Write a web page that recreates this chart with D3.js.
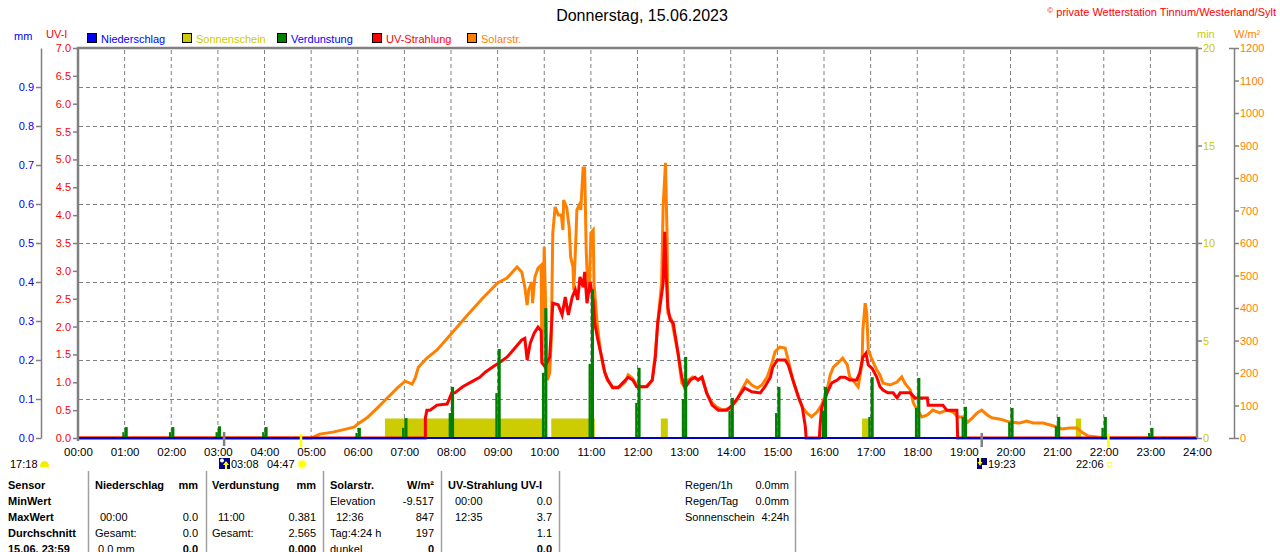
<!DOCTYPE html>
<html>
<head>
<meta charset="utf-8">
<script src="https://cdn.jsdelivr.net/npm/d3@7"></script>
<style>
body { margin: 0; background: #fff; }
svg { display: block; font-family: "Liberation Sans", Arial, sans-serif; }
</style>
</head>
<body>
<script>

// ---- data ----
var hourLabels = ["00:00","01:00","02:00","03:00","04:00","05:00","06:00","07:00","08:00","09:00","10:00","11:00","12:00",
                  "13:00","14:00","15:00","16:00","17:00","18:00","19:00","20:00","21:00","22:00","23:00","24:00"];
var uvTicks = [0,0.5,1,1.5,2,2.5,3,3.5,4,4.5,5,5.5,6,6.5,7];
var mmTicks = [0,0.1,0.2,0.3,0.4,0.5,0.6,0.7,0.8,0.9];
var mmGrid = [0.1,0.2,0.3,0.4,0.5,0.6,0.7,0.8,0.9];
var minTicks = [0,5,10,15,20];
var wTicks = [0,100,200,300,400,500,600,700,800,900,1000,1100,1200];

// Solarstrahlung W/m2
var solarReadings = [
  ["00:00",0],["05:00",0],["05:11",12],["05:28",18],["05:46",28],["05:56",34],["06:00",43],["06:12",62],["06:25",92],["06:38",123],
  ["06:51",154],["07:01",175],["07:10",166],["07:14",185],["07:18",218],["07:29",246],["07:42",271],["07:59",317],["08:21",378],["08:41",431],
  ["09:00",477],["09:12",492],["09:25",526],["09:31",511],["09:35",465],["09:38",409],["09:40",455],["09:44",480],["09:45",415],["09:48",495],
  ["09:52",523],["09:56",532],["09:57",231],["10:00",588],["10:04",178],["10:07",200],["10:09",300],["10:11",631],["10:14",711],["10:18",686],
  ["10:22",686],["10:24",640],["10:25",732],["10:29",708],["10:32",649],["10:34",557],["10:37",526],["10:38",455],["10:41",631],["10:42",702],
  ["10:45",717],["10:47",702],["10:50",831],["10:52",831],["10:54",578],["10:55",517],["10:58",455],["11:00",631],["11:03",640],["11:04",477],
  ["11:08",354],["11:12",271],["11:16",218],["11:21",178],["11:28",157],["11:37",157],["11:44",172],["11:48",194],["11:53",185],["11:59",163],
  ["12:06",157],["12:12",160],["12:19",178],["12:23",262],["12:26",354],["12:31",477],["12:33",711],["12:36",847],["12:38",631],["12:39",385],
  ["12:44",363],["12:48",311],["12:52",262],["12:57",169],["13:01",157],["13:05",178],["13:11",188],["13:18",180],["13:23",188],["13:29",138],
  ["13:36",108],["13:42",95],["13:50",86],["13:59",92],["14:08",117],["14:14",148],["14:21",178],["14:27",163],["14:34",154],["14:40",163],
  ["14:47",188],["14:53",231],["14:57",265],["15:03",280],["15:10",277],["15:14",240],["15:20",178],["15:27",126],["15:32",95],["15:38",77],
  ["15:44",65],["15:51",80],["15:57",102],["16:04",148],["16:08",194],["16:12",218],["16:18",231],["16:24",246],["16:30",225],["16:33",188],
  ["16:37",178],["16:44",157],["16:49",231],["16:50",332],["16:53",415],["16:55",385],["16:57",271],["17:02",240],["17:08",209],["17:12",194],
  ["17:16",169],["17:25",163],["17:34",172],["17:40",188],["17:44",169],["17:51",148],["17:55",108],["18:00",86],["18:06",65],["18:13",71],
  ["18:20",86],["18:29",77],["18:38",86],["18:46",80],["18:52",65],["18:59",65],["19:05",49],["19:11",62],["19:17",77],["19:23",86],
  ["19:30",71],["19:36",62],["19:47",58],["19:59",49],["20:12",46],["20:21",52],["20:29",46],["20:42",46],["20:51",40],["21:00",34],
  ["21:06",28],["21:16",31],["21:25",31],["21:32",18],["21:40",6],["21:51",3],["21:58",0],["24:00",0]
];

// UV-Strahlung UV-I
var uvReadings = [
  ["00:00",0],["07:27",0],["07:27",0.36],["07:29",0.50],["07:33",0.50],["07:42",0.59],["07:55",0.61],["08:01",0.81],["08:05",0.81],["08:15",0.92],
  ["08:28",1.02],["08:37",1.09],["08:44",1.18],["08:54",1.28],["09:03",1.36],["09:12",1.45],["09:22",1.61],["09:31",1.76],["09:35",1.79],["09:38",1.40],
  ["09:42",1.70],["09:47",1.88],["09:52",1.99],["09:56",1.92],["09:57",1.35],["10:01",1.28],["10:07",1.45],["10:11",2.42],["10:18",2.39],["10:23",2.21],
  ["10:27",2.53],["10:31",2.21],["10:36",2.53],["10:40",2.66],["10:43",2.48],["10:46",2.89],["10:50",2.71],["10:52",2.98],["10:55",2.42],["10:59",2.80],
  ["11:03",2.48],["11:05",2.06],["11:09",1.76],["11:14",1.45],["11:18",1.17],["11:22",1.04],["11:28",0.90],["11:35",0.90],["11:41",0.99],["11:48",1.09],
  ["11:54",1.04],["11:59",0.92],["12:12",0.92],["12:19",1.04],["12:23",1.45],["12:26",2.06],["12:33",2.78],["12:35",3.70],["12:37",2.89],["12:39",2.35],
  ["12:42",2.12],["12:46",2.06],["12:51",1.63],["12:57",1.09],["13:01",0.90],["13:08",1.04],["13:14",1.09],["13:18",1.04],["13:23",1.09],["13:29",0.81],
  ["13:36",0.59],["13:44",0.50],["13:55",0.50],["14:02",0.59],["14:09",0.72],["14:18",0.90],["14:27",0.83],["14:38",0.81],["14:44",0.92],["14:51",1.09],
  ["14:54",1.27],["15:00",1.40],["15:10",1.40],["15:14",1.31],["15:20",1.04],["15:27",0.74],["15:32",0.56],["15:36",0.20],["15:37",0],["15:54",0],
  ["15:55",0.23],["15:57",0.54],["16:04",0.81],["16:10",0.99],["16:17",1.04],["16:21",1.09],["16:27",1.09],["16:33",1.04],["16:42",1.04],["16:46",1.17],
  ["16:50",1.45],["16:54",1.52],["16:57",1.31],["17:02",1.25],["17:08",1.09],["17:12",0.92],["17:16",0.86],["17:22",0.81],["17:29",0.81],["17:34",0.72],
  ["17:38",0.81],["17:51",0.81],["17:57",0.72],["18:13",0.72],["18:14",0.59],["18:33",0.59],["18:38",0.50],["18:51",0.50],["18:52",0],["24:00",0]
];

// Sonnenschein blocks (min)
var sunStart = ["06:35","10:09","12:30","16:49","21:24"];
var sunEnd   = ["10:00","11:05","12:39","16:58","21:31"];
var sunMinutes = [1,1,1,1,1];

// Verdunstung mm per hour, plus the short reading next to it
var verdTime = ["01:00","02:00","03:00","04:00","06:00","07:00","08:00","09:00","10:00","11:00","12:00",
                "13:00","14:00","15:00","16:00","17:00","18:00","19:00","20:00","21:00","22:00","23:00"];
var verdValue = [0.028,0.028,0.030,0.028,0.026,0.051,0.131,0.228,0.333,0.381,0.180,
                 0.208,0.103,0.131,0.131,0.156,0.154,0.080,0.077,0.054,0.054,0.026];
var verdPrev  = [0.015,0.015,0.015,0.015,0.013,0.026,0.064,0.115,0.167,0.190,0.090,
                 0.100,0.070,0.064,0.070,0.054,0.077,0.054,0.040,0.030,0.026,0.013];

// Niederschlag mm
var rainReadings = [["00:00",0],["24:00",0]];

// moon / sun times
var moonRise = "03:08", sunRise = "04:47", moonSet = "19:23", sunSet = "22:06";

function toMin(s) { var p = s.split(":"); return +p[0] * 60 + +p[1]; }

var W = 1280, H = 552;
var svg = d3.select("body").append("svg").attr("width", W).attr("height", H);

var x = d3.scaleLinear().domain([0, 1440]).range([78, 1197]);
var yUV = d3.scaleLinear().domain([0, 7]).range([438, 48]);
var yMM = d3.scaleLinear().domain([0, 1]).range([438, 48]);
var yMin = d3.scaleLinear().domain([0, 20]).range([438, 48]);
var yW = d3.scaleLinear().domain([0, 1200]).range([438, 48]);

var gray = "#808080";

// grid
svg.append("g").selectAll("line").data(d3.range(1, 24)).enter().append("line")
    .attr("x1", function(d) { return x(d * 60); }).attr("x2", function(d) { return x(d * 60); })
    .attr("y1", 50).attr("y2", 438)
    .attr("stroke", gray).attr("stroke-dasharray", "4,3");
svg.append("g").selectAll("line").data(mmGrid).enter().append("line")
    .attr("x1", 79).attr("x2", 1196)
    .attr("y1", function(d) { return Math.round(yMM(d)) + 0.5; }).attr("y2", function(d) { return Math.round(yMM(d)) + 0.5; })
    .attr("stroke", gray).attr("stroke-dasharray", "4,3");

// sunshine
svg.append("g").selectAll("rect").data(sunStart).enter().append("rect")
    .attr("x", function(d) { return x(toMin(d)); })
    .attr("width", function(d, i) { return x(toMin(sunEnd[i])) - x(toMin(d)); })
    .attr("y", function(d, i) { return yMin(sunMinutes[i]); })
    .attr("height", function(d, i) { return yMin(0) - yMin(sunMinutes[i]); })
    .attr("fill", "#cccc00");

// solar line
var solarLine = d3.line()
    .x(function(d) { return x(toMin(d[0])); })
    .y(function(d) { return yW(d[1]); });
svg.append("path").datum(solarReadings)
    .attr("d", solarLine).attr("fill", "none")
    .attr("stroke", "#ff8000").attr("stroke-width", 3);

// uv line
var uvLine = d3.line()
    .x(function(d) { return x(toMin(d[0])); })
    .y(function(d) { return yUV(d[1]); });
svg.append("path").datum(uvReadings)
    .attr("d", uvLine).attr("fill", "none")
    .attr("stroke", "#ff0000").attr("stroke-width", 3);

// evaporation bars
var verd = svg.append("g");
verd.selectAll("rect.prev").data(verdTime).enter().append("rect")
    .attr("x", function(d) { return x(toMin(d) - 3); })
    .attr("width", x(3) - x(0))
    .attr("y", function(d, i) { return yMM(verdPrev[i]); })
    .attr("height", function(d, i) { return yMM(0) - yMM(verdPrev[i]); })
    .attr("fill", "#008000");
verd.selectAll("rect.main").data(verdTime).enter().append("rect")
    .attr("x", function(d) { return x(toMin(d)); })
    .attr("width", x(4) - x(0))
    .attr("y", function(d, i) { return yMM(verdValue[i]); })
    .attr("height", function(d, i) { return yMM(0) - yMM(verdValue[i]); })
    .attr("fill", "#008000");

// rain line
var rainLine = d3.line()
    .x(function(d) { return x(toMin(d[0])); })
    .y(function(d) { return yMM(d[1]); });
svg.append("path").datum(rainReadings)
    .attr("d", rainLine).attr("fill", "none")
    .attr("stroke", "#0000c8").attr("stroke-width", 2);

// frame
svg.append("path")
    .attr("d", "M78,441V48H1197V438")
    .attr("fill", "none").attr("stroke", gray).attr("stroke-width", 2.5);

// axes
function styleAxis(g, color) {
  g.attr("font-family", null).attr("font-size", 11);
  g.selectAll("text").attr("fill", color);
  g.selectAll("line").attr("stroke", gray).attr("stroke-width", 1.5);
  g.select(".domain").attr("stroke", gray).attr("stroke-width", 1.5);
}

var uvAxis = svg.append("g").attr("transform", "translate(77,0)")
    .call(d3.axisLeft(yUV).tickValues(uvTicks).tickFormat(d3.format(".1f")).tickSize(4).tickPadding(2));
styleAxis(uvAxis, "#ff0000");
uvAxis.select(".domain").remove();

var mmAxis = svg.append("g").attr("transform", "translate(41,0)")
    .call(d3.axisLeft(yMM).tickValues(mmTicks).tickFormat(d3.format(".1f")).tickSize(5).tickSizeOuter(0).tickPadding(2));
styleAxis(mmAxis, "#0000ff");

var minAxis = svg.append("g").attr("transform", "translate(1197,0)")
    .call(d3.axisRight(yMin).tickValues(minTicks).tickFormat(d3.format("d")).tickSize(5).tickPadding(1));
styleAxis(minAxis, "#cccc00");
minAxis.select(".domain").remove();

var wAxis = svg.append("g").attr("transform", "translate(1234,0)")
    .call(d3.axisRight(yW).tickValues(wTicks).tickFormat(d3.format("d")).tickSize(5).tickSizeOuter(0).tickPadding(1));
styleAxis(wAxis, "#ff8000");
wAxis.selectAll(".tick").filter(function(d) { return d === 0 || d === 1200; })
    .select("line").attr("x1", -5);

var xAxis = svg.append("g").attr("transform", "translate(0,438)")
    .call(d3.axisBottom(x).tickValues(d3.range(0, 1441, 60))
      .tickFormat(function(d, i) { return hourLabels[i]; }).tickSize(0).tickPadding(10));
xAxis.attr("font-family", null).attr("font-size", 11.5);
xAxis.select(".domain").remove();
xAxis.selectAll("text").attr("fill", "#000");

// header texts
svg.append("text").attr("x", 642).attr("y", 21).attr("text-anchor", "middle")
    .attr("font-size", 16).text("Donnerstag, 15.06.2023");
var copy = svg.append("text").attr("x", 1276).attr("y", 16).attr("text-anchor", "end")
    .attr("font-size", 11).attr("fill", "#ff0000");
copy.append("tspan").attr("font-size", 8).attr("dy", -3).text("©");
copy.append("tspan").attr("dy", 3).text(" private Wetterstation Tinnum/Westerland/Sylt");

svg.append("text").attr("x", 14).attr("y", 40).attr("font-size", 11).attr("fill", "#0000ff").text("mm");
svg.append("text").attr("x", 46).attr("y", 38).attr("font-size", 11).attr("fill", "#ff0000").text("UV-I");
svg.append("text").attr("x", 1197).attr("y", 38).attr("font-size", 11).attr("fill", "#cccc00").text("min");
svg.append("text").attr("x", 1234).attr("y", 38).attr("font-size", 11).attr("fill", "#ff8000").text("W/m²");

var legendItems = [
  { x: 87, box: "#0000ff", text: "#0000ff", label: "Niederschlag" },
  { x: 182, box: "#cccc00", text: "#cccc00", label: "Sonnenschein" },
  { x: 277, box: "#008000", text: "#0000ff", label: "Verdunstung" },
  { x: 372, box: "#ff0000", text: "#ff0000", label: "UV-Strahlung" },
  { x: 467, box: "#ff8000", text: "#ff8000", label: "Solarstr." }
];
var lg = svg.append("g").selectAll("g").data(legendItems).enter().append("g");
lg.append("rect").attr("x", function(d) { return d.x + 0.5; }).attr("y", 33.5).attr("width", 9).attr("height", 9)
    .attr("fill", function(d) { return d.box; }).attr("stroke", "#000");
lg.append("text").attr("x", function(d) { return d.x + 14; }).attr("y", 43).attr("font-size", 11)
    .attr("fill", function(d) { return d.text; }).text(function(d) { return d.label; });

// moon and sun markers below the axis
svg.append("line").attr("x1", x(toMin(moonRise))).attr("x2", x(toMin(moonRise))).attr("y1", 432).attr("y2", 446)
    .attr("stroke", gray).attr("stroke-width", 2.5);
svg.append("line").attr("x1", x(toMin(moonSet))).attr("x2", x(toMin(moonSet))).attr("y1", 433).attr("y2", 447)
    .attr("stroke", gray).attr("stroke-width", 2.5);
svg.append("line").attr("x1", x(toMin(sunRise))).attr("x2", x(toMin(sunRise))).attr("y1", 434).attr("y2", 447)
    .attr("stroke", "#ffff00").attr("stroke-width", 2.5);
svg.append("line").attr("x1", x(toMin(sunSet))).attr("x2", x(toMin(sunSet))).attr("y1", 434).attr("y2", 447)
    .attr("stroke", "#ffff00").attr("stroke-width", 2.5);

var ev = svg.append("g").attr("font-size", 11);
ev.append("text").attr("x", 10).attr("y", 468).text("17:18");
ev.append("path").attr("d", "M40,467 Q40,461 44.5,461 Q49,461 49,467 Z").attr("fill", "#f0f000");
// moon rise icon
ev.append("rect").attr("x", 219).attr("y", 458).attr("width", 11).attr("height", 11).attr("fill", "#000080");
ev.append("circle").attr("cx", 222).attr("cy", 460.5).attr("r", 2).attr("fill", "#fff");
ev.append("path").attr("d", "M226,461 L229,465 L227,465 L227,469 L225,469 L225,465 L223,465 Z").attr("fill", "#ffff00");
ev.append("text").attr("x", 231).attr("y", 468).text(moonRise);
ev.append("text").attr("x", 267).attr("y", 468).text(sunRise);
ev.append("circle").attr("cx", 302).attr("cy", 464).attr("r", 5).attr("fill", "#ffffa0");
ev.append("circle").attr("cx", 302).attr("cy", 464).attr("r", 3.2).attr("fill", "#ffff00");
// moon set icon
ev.append("rect").attr("x", 977).attr("y", 458).attr("width", 10).attr("height", 11).attr("fill", "#000080");
ev.append("rect").attr("x", 982).attr("y", 465).attr("width", 5).attr("height", 4).attr("fill", "#fff");
ev.append("path").attr("d", "M980,466 L977.5,462 L979,462 L979,458 L981,458 L981,462 L982.5,462 Z").attr("fill", "#ffff00");
ev.append("text").attr("x", 988).attr("y", 468).text(moonSet);
ev.append("text").attr("x", 1076).attr("y", 468).text(sunSet);
ev.append("rect").attr("x", 1107.5).attr("y", 462.5).attr("width", 4).attr("height", 4)
    .attr("fill", "none").attr("stroke", "#ffff60").attr("stroke-width", 1.2);

// table
var sepX = [88, 206, 323, 441, 559, 795];
svg.append("g").selectAll("line").data(sepX).enter().append("line")
    .attr("x1", function(d) { return d + 0.5; }).attr("x2", function(d) { return d + 0.5; })
    .attr("y1", 471).attr("y2", 552).attr("stroke", "#a0a0a0").attr("stroke-width", 1.5);

var rowY = [489, 505, 521, 537, 553];
// [x, row, text, anchor, bold]
var tableCells = [
  [8, 0, "Sensor", "start", 1], [8, 1, "MinWert", "start", 1], [8, 2, "MaxWert", "start", 1],
  [8, 3, "Durchschnitt", "start", 1], [8, 4, "15.06. 23:59", "start", 1],
  [95, 0, "Niederschlag", "start", 1], [198, 0, "mm", "end", 1],
  [100, 2, "00:00", "start", 0], [198, 2, "0.0", "end", 0],
  [95, 3, "Gesamt:", "start", 0], [198, 3, "0.0", "end", 0],
  [98, 4, "0.0 mm", "start", 0], [198, 4, "0.0", "end", 1],
  [212, 0, "Verdunstung", "start", 1], [316, 0, "mm", "end", 1],
  [218, 2, "11:00", "start", 0], [316, 2, "0.381", "end", 0],
  [212, 3, "Gesamt:", "start", 0], [316, 3, "2.565", "end", 0],
  [316, 4, "0.000", "end", 1],
  [330, 0, "Solarstr.", "start", 1], [434, 0, "W/m²", "end", 1],
  [330, 1, "Elevation", "start", 0], [434, 1, "-9.517", "end", 0],
  [336, 2, "12:36", "start", 0], [434, 2, "847", "end", 0],
  [330, 3, "Tag:4:24 h", "start", 0], [434, 3, "197", "end", 0],
  [330, 4, "dunkel", "start", 0], [434, 4, "0", "end", 1],
  [448, 0, "UV-Strahlung UV-I", "start", 1],
  [455, 1, "00:00", "start", 0], [552, 1, "0.0", "end", 0],
  [455, 2, "12:35", "start", 0], [552, 2, "3.7", "end", 0],
  [552, 3, "1.1", "end", 0], [552, 4, "0.0", "end", 1],
  [685, 0, "Regen/1h", "start", 0], [789, 0, "0.0mm", "end", 0],
  [685, 1, "Regen/Tag", "start", 0], [789, 1, "0.0mm", "end", 0],
  [685, 2, "Sonnenschein", "start", 0], [789, 2, "4:24h", "end", 0]
];
svg.append("g").selectAll("text").data(tableCells).enter().append("text")
    .attr("x", function(d) { return d[0]; })
    .attr("y", function(d) { return rowY[d[1]]; })
    .attr("text-anchor", function(d) { return d[3]; })
    .attr("font-weight", function(d) { return d[4] ? "bold" : "normal"; })
    .attr("font-size", 11)
    .text(function(d) { return d[2]; });

</script>
</body>
</html>
